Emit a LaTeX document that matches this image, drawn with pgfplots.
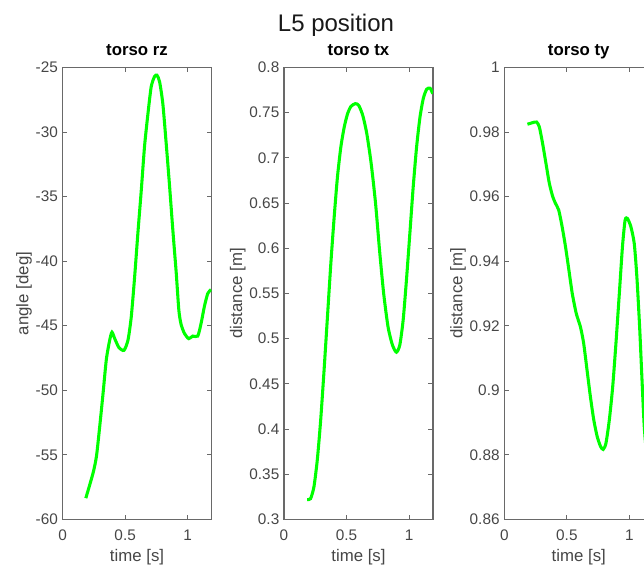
\documentclass[border=0pt]{standalone}
\usepackage{pgfplots}
\pgfplotsset{compat=1.18}
\usepackage{fontspec}
\setmainfont{Liberation Sans}
\definecolor{mgreen}{RGB}{0,255,0}
\definecolor{axgray}{RGB}{105,105,105}
\definecolor{txtgray}{RGB}{70,70,70}

\pgfplotsset{
 mstyle/.style={
  scale only axis, width=111.75pt, height=339pt,
  xmin=0, xmax=1.19, xtick={0,0.5,1},
  axis line style={axgray, line width=1.1pt},
  every tick/.style={axgray, line width=0.8pt},
  major tick length=3.4pt,
  tick align=inside,
  ticklabel style={font=\fontsize{11.5}{13}\selectfont, text=txtgray},
  xticklabel style={yshift=-4pt},
  /pgf/number format/assume math mode=true,
  label style={font=\fontsize{12.6}{14}\selectfont, text=txtgray},
  ylabel shift=-4pt,
  title style={font=\fontsize{12.6}{14}\selectfont\bfseries, text=black, at={(0.5,1)}, anchor=base, yshift=3.2pt},
  xlabel={time [s]},
  anchor=south west,
  clip=true,
 }
}

\begin{document}
\begin{tikzpicture}
\useasboundingbox (0,0) rectangle (483pt,426pt);
\clip (0,0) rectangle (483pt,426pt);
\node[font=\fontsize{18}{20}\selectfont, text=black!90, anchor=base] at (252pt,402.5pt) {L5 position};

\begin{axis}[mstyle, at={(46.9pt,36.4pt)}, title={torso rz}, ylabel={angle [deg]},
  ymin=-60, ymax=-25, ytick={-60,-55,-50,-45,-40,-35,-30,-25}]
\addplot[mgreen, line width=2.3pt, smooth, tension=0.4] coordinates {
(0.186,-58.35) (0.244,-56.4) (0.271,-55.1) (0.297,-52.8) (0.324,-50.2) (0.350,-47.6)
(0.377,-46.1) (0.395,-45.5) (0.417,-46.0) (0.451,-46.7) (0.491,-46.9) (0.523,-46.1)
(0.549,-44.3) (0.576,-41.2) (0.602,-37.8) (0.629,-34.5) (0.655,-31.1) (0.682,-28.6)
(0.708,-26.5) (0.735,-25.7) (0.754,-25.6) (0.775,-26.1) (0.801,-27.8) (0.828,-30.9)
(0.855,-34.2) (0.881,-37.6) (0.908,-40.9) (0.929,-43.8) (0.947,-44.9) (0.974,-45.6)
(1.008,-46.0) (1.040,-45.8) (1.080,-45.8) (1.107,-44.8) (1.133,-43.5) (1.160,-42.5)
(1.186,-42.2)
};
\end{axis}

\begin{axis}[mstyle, at={(213pt,36.4pt)}, title={torso tx}, ylabel={distance [m]},
  ymin=0.3, ymax=0.8, ytick={0.3,0.35,0.4,0.45,0.5,0.55,0.6,0.65,0.7,0.75,0.8}]
\addplot[mgreen, line width=2.3pt, smooth, tension=0.4] coordinates {
(0.185,0.322) (0.212,0.323) (0.239,0.336) (0.266,0.366) (0.293,0.410) (0.320,0.465)
(0.347,0.524) (0.374,0.583) (0.401,0.635) (0.427,0.679) (0.454,0.712) (0.481,0.734)
(0.508,0.749) (0.535,0.757) (0.570,0.760) (0.597,0.758) (0.629,0.747) (0.661,0.727)
(0.696,0.694) (0.731,0.650) (0.763,0.598) (0.796,0.550) (0.831,0.513) (0.866,0.493)
(0.898,0.485) (0.925,0.493) (0.952,0.521) (0.978,0.565) (1.005,0.616) (1.032,0.668)
(1.059,0.712) (1.086,0.745) (1.113,0.766) (1.140,0.776) (1.167,0.777) (1.188,0.771)
};
\end{axis}

\begin{axis}[mstyle, at={(378.2pt,36.4pt)}, title={torso ty}, ylabel={distance [m]},
  ymin=0.86, ymax=1, ytick={0.86,0.88,0.9,0.92,0.94,0.96,0.98,1}]
\addplot[mgreen, line width=2.3pt, smooth, tension=0.4] coordinates {
(0.185,0.9824) (0.226,0.9829) (0.258,0.9831) (0.280,0.9816) (0.306,0.9765) (0.333,0.9703)
(0.360,0.9641) (0.387,0.9600) (0.409,0.9579) (0.435,0.9558) (0.462,0.9507) (0.489,0.9445)
(0.516,0.9373) (0.543,0.9300) (0.575,0.9238) (0.608,0.9197) (0.634,0.9146) (0.661,0.9063)
(0.688,0.8980) (0.715,0.8908) (0.742,0.8857) (0.769,0.8826) (0.790,0.8817) (0.812,0.8836)
(0.839,0.8908) (0.866,0.9011) (0.892,0.9146) (0.919,0.9300) (0.944,0.9445) (0.965,0.9527)
(0.984,0.9532) (1.011,0.9507) (1.038,0.9455) (1.059,0.9352) (1.081,0.9197) (1.099,0.9042)
(1.118,0.8888) (1.140,0.8790) (1.160,0.8760) (1.188,0.8790)
};
\end{axis}
\end{tikzpicture}
\end{document}
